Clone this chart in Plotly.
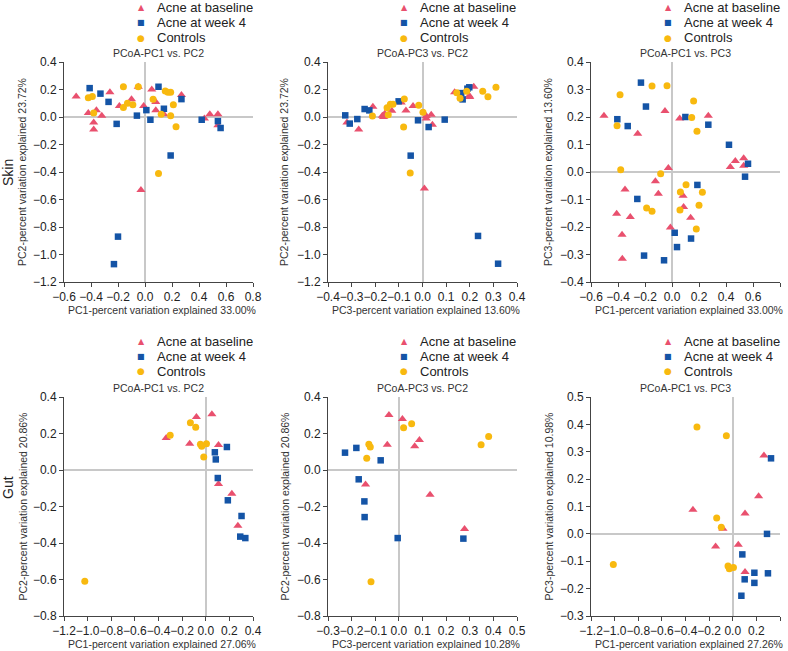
import plotly.graph_objects as go

W, H = 788, 651

# ---------------- data ----------------
groups = ["Acne at baseline", "Acne at week 4", "Controls"]

# Panel 1: Skin, PC1 vs PC2
p1_base_x = [-0.51, -0.42, -0.36, -0.38, -0.38, -0.32, -0.26, -0.19, -0.10, -0.05, -0.01, 0.05, 0.08, 0.08, 0.14, -0.03, 0.27, 0.44, 0.48, 0.54, 0.54]
p1_base_y = [0.15, 0.03, 0.05, -0.04, -0.09, 0.01, 0.18, 0.08, 0.13, 0.22, 0.08, 0.20, 0.11, 0.05, 0.02, -0.53, 0.16, -0.01, 0.02, 0.02, -0.06]
p1_wk4_x = [-0.41, -0.33, -0.27, -0.21, -0.20, -0.23, -0.06, 0.01, 0.04, 0.10, 0.14, 0.19, 0.27, 0.42, 0.54, 0.56]
p1_wk4_y = [0.21, 0.17, 0.11, -0.05, -0.87, -1.07, 0.01, 0.05, -0.02, 0.22, 0.06, -0.28, 0.13, -0.02, -0.03, -0.08]
p1_ctrl_x = [-0.42, -0.39, -0.38, -0.16, -0.16, -0.13, -0.09, -0.05, 0.06, 0.12, 0.15, 0.17, 0.19, 0.19, 0.21, 0.23, 0.10]
p1_ctrl_y = [0.14, 0.15, 0.03, 0.22, 0.07, 0.10, 0.09, 0.22, 0.13, 0.02, 0.19, 0.18, 0.18, 0.01, 0.09, -0.07, -0.41]

# Panel 2: Skin, PC3 vs PC2
p2_base_x = [-0.32, -0.27, -0.21, -0.17, -0.16, -0.165, -0.13, -0.09, -0.07, -0.04, 0.016, 0.016, 0.037, 0.042, 0.008, 0.136, 0.198, 0.200, 0.217]
p2_base_y = [-0.04, -0.09, 0.075, 0.01, 0.024, 0.0, 0.046, 0.105, 0.048, 0.08, 0.007, -0.01, 0.017, -0.056, -0.52, 0.18, 0.155, 0.145, 0.22]
p2_wk4_x = [-0.327, -0.308, -0.276, -0.245, -0.225, -0.101, -0.019, 0.026, 0.094, -0.05, 0.164, 0.170, 0.190, 0.198, 0.235, 0.32]
p2_wk4_y = [0.012, -0.048, -0.015, 0.058, 0.048, 0.114, -0.024, -0.073, -0.019, -0.281, 0.174, 0.128, 0.206, 0.216, -0.865, -1.067]
p2_ctrl_x = [-0.212, -0.150, -0.145, -0.136, -0.125, -0.077, -0.080, -0.016, 0.002, -0.052, 0.145, 0.159, 0.187, 0.255, 0.277, 0.311]
p2_ctrl_y = [0.007, 0.068, 0.017, 0.092, 0.092, 0.131, -0.073, 0.085, 0.034, -0.407, 0.177, 0.136, 0.187, 0.187, 0.148, 0.216]

# Panel 3: Skin, PC1 vs PC3
p3_base_x = [-0.504, -0.254, -0.052, 0.057, 0.269, -0.027, 0.432, 0.469, 0.531, 0.531, -0.123, -0.348, -0.101, 0.082, 0.086, -0.410, -0.309, 0.138, -0.012, -0.370, -0.368]
p3_base_y = [0.205, 0.139, 0.222, 0.195, 0.205, 0.015, 0.018, 0.040, 0.050, 0.023, -0.034, -0.064, -0.079, -0.086, -0.127, -0.152, -0.164, -0.166, -0.202, -0.228, -0.315]
p3_wk4_x = [-0.230, -0.193, -0.405, -0.328, 0.099, 0.269, 0.422, 0.563, 0.541, -0.257, 0.188, 0.020, 0.037, 0.141, -0.207, -0.059]
p3_wk4_y = [0.325, 0.238, 0.192, 0.167, 0.200, 0.172, 0.099, 0.030, -0.017, -0.098, -0.047, -0.221, -0.273, -0.242, -0.304, -0.321]
p3_ctrl_x = [-0.385, -0.148, -0.037, 0.160, 0.146, 0.185, -0.407, -0.380, -0.084, 0.104, 0.062, 0.225, -0.188, -0.148, 0.059, 0.200, 0.180]
p3_ctrl_y = [0.281, 0.313, 0.314, 0.258, 0.198, 0.148, 0.168, 0.008, -0.006, -0.046, -0.073, -0.074, -0.131, -0.143, -0.138, -0.121, -0.207]

# Panel 4: Gut, PC1 vs PC2
p4_base_x = [-0.335, -0.136, -0.079, 0.052, 0.108, 0.108, 0.221, 0.272]
p4_base_y = [0.175, 0.144, 0.290, 0.305, 0.137, -0.077, -0.130, -0.305]
p4_wk4_x = [0.077, 0.085, 0.179, 0.102, 0.187, 0.303, 0.292, 0.335]
p4_wk4_y = [0.097, 0.058, 0.126, -0.044, -0.166, -0.252, -0.365, -0.373]
p4_ctrl_x = [-0.301, -0.130, -0.085, -0.045, -0.034, 0.006, -0.017, -1.024]
p4_ctrl_y = [0.190, 0.259, 0.234, 0.141, 0.130, 0.144, 0.071, -0.610]

# Panel 5: Gut, PC3 vs PC2
p5_base_x = [-0.042, 0.015, -0.049, 0.087, 0.067, -0.141, 0.132, 0.278]
p5_base_y = [0.301, 0.279, 0.139, 0.164, 0.130, -0.080, -0.135, -0.323]
p5_wk4_x = [-0.228, -0.180, -0.077, -0.170, -0.146, -0.145, -0.005, 0.273]
p5_wk4_y = [0.095, 0.121, 0.053, -0.051, -0.172, -0.258, -0.373, -0.376]
p5_ctrl_x = [-0.127, -0.121, -0.136, 0.020, 0.054, 0.348, 0.380, -0.118]
p5_ctrl_y = [0.141, 0.126, 0.064, 0.232, 0.254, 0.139, 0.183, -0.612]

# Panel 6: Gut, PC1 vs PC3
p6_base_x = [-0.337, -0.083, -0.145, 0.047, 0.104, 0.104, 0.219, 0.264]
p6_base_y = [0.088, 0.019, -0.046, -0.040, 0.074, -0.139, 0.137, 0.286]
p6_wk4_x = [0.324, 0.290, 0.081, 0.183, 0.298, 0.101, 0.183, 0.073]
p6_wk4_y = [0.276, 0.0, -0.075, -0.142, -0.144, -0.166, -0.179, -0.226]
p6_ctrl_x = [-0.303, -0.054, -0.136, -0.097, -0.040, -0.029, 0.006, -1.011]
p6_ctrl_y = [0.390, 0.358, 0.058, 0.024, -0.117, -0.127, -0.123, -0.112]

panel_titles = ["PCoA-PC1 vs. PC2", "PCoA-PC3 vs. PC2", "PCoA-PC1 vs. PC3",
                "PCoA-PC1 vs. PC2", "PCoA-PC3 vs. PC2", "PCoA-PC1 vs. PC3"]
x_titles = ["PC1-percent variation explained 33.00%", "PC3-percent variation explained 13.60%",
            "PC1-percent variation explained 33.00%", "PC1-percent variation explained 27.06%",
            "PC3-percent variation explained 10.28%", "PC1-percent variation explained 27.26%"]
y_titles = ["PC2-percent variation explained 23.72%", "PC2-percent variation explained 23.72%",
            "PC3-percent variation explained 13.60%", "PC2-percent variation explained 20.86%",
            "PC2-percent variation explained 20.86%", "PC3-percent variation explained 10.98%"]
row_labels = ["Skin", "Gut"]

x_ranges = [[-0.6, 0.8], [-0.4, 0.4], [-0.6, 0.8], [-1.2, 0.4], [-0.3, 0.5], [-1.2, 0.4]]
y_ranges = [[-1.2, 0.4], [-1.2, 0.4], [-0.4, 0.4], [-0.8, 0.4], [-0.8, 0.4], [-0.3, 0.5]]
x_dticks = [0.2, 0.1, 0.2, 0.2, 0.1, 0.2]
y_dticks = [0.2, 0.2, 0.1, 0.2, 0.2, 0.1]

panels = [
    (p1_base_x, p1_base_y, p1_wk4_x, p1_wk4_y, p1_ctrl_x, p1_ctrl_y),
    (p2_base_x, p2_base_y, p2_wk4_x, p2_wk4_y, p2_ctrl_x, p2_ctrl_y),
    (p3_base_x, p3_base_y, p3_wk4_x, p3_wk4_y, p3_ctrl_x, p3_ctrl_y),
    (p4_base_x, p4_base_y, p4_wk4_x, p4_wk4_y, p4_ctrl_x, p4_ctrl_y),
    (p5_base_x, p5_base_y, p5_wk4_x, p5_wk4_y, p5_ctrl_x, p5_ctrl_y),
    (p6_base_x, p6_base_y, p6_wk4_x, p6_wk4_y, p6_ctrl_x, p6_ctrl_y),
]

# ---------------- styling / layout ----------------
FONT = "Liberation Sans, Arial, sans-serif"
colors = ["#E9506E", "#1454A6", "#F8B90F"]
symbols = ["triangle-up", "square", "circle"]
sizes = [8, 6.5, 7]
legend_glyphs = ["\u25B2", "\u25A0", "\u25CF"]
legend_glyph_sizes = [8, 8, 9]

# plot-area pixel boxes (left, right) and (top, bottom)
col_px = [(64, 253), (328, 517), (591, 780)]
row_px = [(62, 282), (397, 616)]


def px_x(px):
    return px / W


def px_y(py):
    return 1 - py / H


fig = go.Figure()
annotations = []
layout = dict(
    width=W, height=H,
    margin=dict(l=0, r=0, t=0, b=0, autoexpand=False),
    paper_bgcolor="white", plot_bgcolor="white",
    font=dict(family=FONT, color="#222"),
    showlegend=False,
)

leg_text_x = [156, 419, 683]
leg_rows = [(7.5, 22.5, 37.5), (341, 356, 371)]

for i, (bx, by, wx, wy, cx, cy) in enumerate(panels):
    r, c = divmod(i, 3)
    k = "" if i == 0 else str(i + 1)
    data = [(bx, by), (wx, wy), (cx, cy)]
    for g in range(3):
        fig.add_trace(go.Scatter(
            x=data[g][0], y=data[g][1], mode="markers", name=groups[g],
            legendgroup=groups[g], showlegend=False,
            marker=dict(symbol=symbols[g], size=sizes[g], color=colors[g], line=dict(width=0)),
            xaxis="x" + k, yaxis="y" + k,
        ))
    L, R = col_px[c]
    T, B = row_px[r]
    axcommon = dict(showline=True, linecolor="#444", linewidth=1, ticks="outside", ticklen=4,
                    tickcolor="#444", tickwidth=1, showgrid=False, zeroline=True,
                    zerolinecolor="#c8c8c8", zerolinewidth=1.5, tickformat=".1f",
                    tickangle=0, automargin=False,
                    tickfont=dict(size=12, color="#222", family=FONT), mirror=False,
                    fixedrange=True)
    layout["xaxis" + k] = dict(axcommon, domain=[px_x(L), px_x(R)], range=x_ranges[i],
                               dtick=x_dticks[i], tick0=0, anchor="y" + k)
    layout["yaxis" + k] = dict(axcommon, domain=[px_y(B), px_y(T)], range=y_ranges[i],
                               dtick=y_dticks[i], tick0=0, anchor="x" + k)

    # legend block (one per panel, as in the reference)
    for g in range(3):
        yrow = leg_rows[r][g]
        annotations.append(dict(text=legend_glyphs[g], x=px_x(leg_text_x[c] - 15), y=px_y(yrow),
                                xref="paper", yref="paper", showarrow=False,
                                xanchor="center", yanchor="middle", borderpad=0,
                                font=dict(size=legend_glyph_sizes[g], color=colors[g],
                                          family="DejaVu Sans")))
        annotations.append(dict(text=groups[g], x=px_x(leg_text_x[c]), y=px_y(yrow),
                                xref="paper", yref="paper", showarrow=False,
                                xanchor="left", yanchor="middle", borderpad=0,
                                font=dict(size=13, color="#222", family=FONT)))

    cxm = (L + R) / 2
    # panel title
    annotations.append(dict(text=panel_titles[i], x=px_x(cxm), y=px_y(T - 9),
                            xref="paper", yref="paper", showarrow=False,
                            xanchor="center", yanchor="middle",
                            font=dict(size=10.5, color="#333", family=FONT)))
    # x title
    annotations.append(dict(text=x_titles[i], x=px_x(cxm + 3), y=px_y(B + 28),
                            xref="paper", yref="paper", showarrow=False,
                            xanchor="center", yanchor="middle",
                            font=dict(size=10.5, color="#333", family=FONT)))
    # y title
    ytx = [22, 284, 548][c]
    annotations.append(dict(text=y_titles[i], x=px_x(ytx), y=px_y((T + B) / 2),
                            xref="paper", yref="paper", showarrow=False, textangle=-90,
                            xanchor="center", yanchor="middle",
                            font=dict(size=10.5, color="#333", family=FONT)))

# row labels
for lbl, yc in zip(row_labels, [172, 487]):
    annotations.append(dict(text=lbl, x=px_x(8), y=px_y(yc), xref="paper", yref="paper",
                            showarrow=False, textangle=-90, xanchor="center",
                            yanchor="middle", font=dict(size=14, color="#222", family=FONT)))

layout["annotations"] = annotations
fig.update_layout(**layout)
fig.write_html(
    "out.html",
    config={"displayModeBar": False},
    post_script="document.body.style.margin='0';document.body.style.overflow='hidden';",
)
